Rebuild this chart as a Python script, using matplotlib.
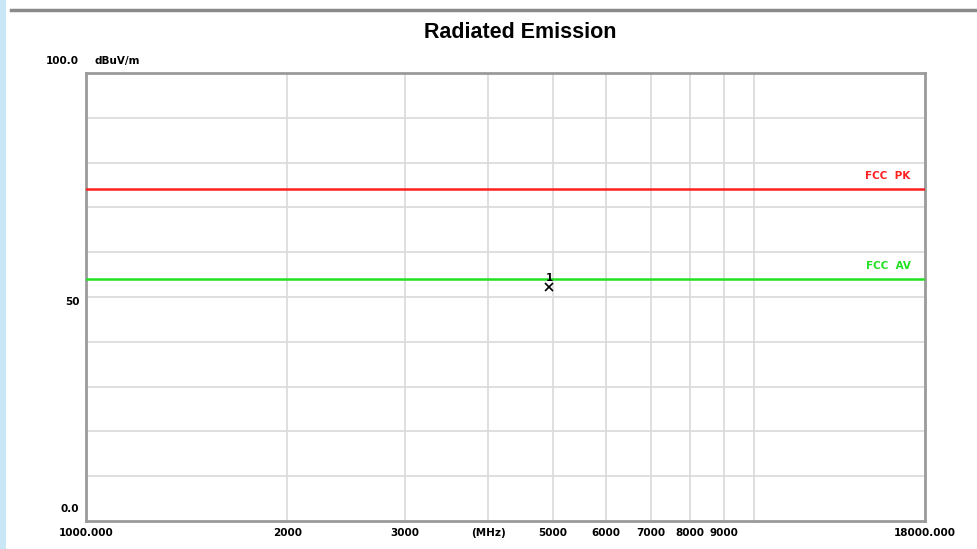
import matplotlib
matplotlib.use('Agg')
import matplotlib.pyplot as plt
import numpy as np
from matplotlib.patches import Rectangle
from matplotlib.lines import Line2D

# limits and data
limit_names = ['FCC  PK', 'FCC  AV']
limit_levels = [74.0, 54.0]
limit_colors = ['#ff2020', '#22e022']
marker_freq = [4930.0]
marker_level = [52.2]
marker_ids = ['1']
xgrid = [2000, 3000, 4000, 5000, 6000, 7000, 8000, 9000, 10000]
xlabels = {1000: '1000.000', 2000: '2000', 3000: '3000', 4000: '(MHz)', 5000: '5000',
           6000: '6000', 7000: '7000', 8000: '8000', 9000: '9000', 18000: '18000.000'}

fig = plt.figure(figsize=(9.77, 5.49), dpi=100)
fig.patch.set_facecolor('white')
# light blue strip on the left edge and the top rule
fig.patches.append(Rectangle((0, 0), 6/977, 1, transform=fig.transFigure,
                             facecolor='#c8e6f5', edgecolor='none'))
fig.lines.append(Line2D([11/977, 1], [1 - 10/549, 1 - 10/549], transform=fig.transFigure,
                        color='#8a8a8a', lw=2.5))

ax = fig.add_axes([86/977, 1 - 521/549, 839/977, 448/549])
ax.set_xscale('log')
ax.set_xlim(1000, 18000)
ax.set_ylim(0, 100)

for x in xgrid:
    ax.axvline(x, color='#d9d9d9', lw=1.2, zorder=1)
for y in range(10, 100, 10):
    ax.axhline(y, color='#d9d9d9', lw=1.2, zorder=1)

for name, lvl, c in zip(limit_names, limit_levels, limit_colors):
    ax.axhline(lvl, color=c, lw=1.8, zorder=3)
    ax.text(0.983, lvl + 1.8, name, transform=ax.get_yaxis_transform(), color=c,
            ha='right', va='bottom', fontsize=7.5, fontweight='bold')

ax.plot(marker_freq, marker_level, 'x', color='black', ms=6, mew=1.2, zorder=4)
for f, l, t in zip(marker_freq, marker_level, marker_ids):
    ax.text(f, l + 1.0, t, ha='center', va='bottom', fontsize=7.5, fontweight='bold')

for s in ax.spines.values():
    s.set_color('#9a9a9a')
    s.set_linewidth(2)

ax.set_xticks([])
ax.set_yticks([])
ax.minorticks_off()

# axis labels as in the analyser printout
for x, lab in xlabels.items():
    ax.text(x, -1.5, lab, ha='center', va='top', fontsize=7.5, fontweight='bold')
ax.text(-0.008, 100 + 1.5, '100.0', transform=ax.get_yaxis_transform(), ha='right',
        va='bottom', fontsize=7.5, fontweight='bold')
ax.text(0.01, 100 + 1.5, 'dBuV/m', transform=ax.get_yaxis_transform(), ha='left',
        va='bottom', fontsize=7.5, fontweight='bold')
ax.text(-0.008, 50, '50', transform=ax.get_yaxis_transform(), ha='right',
        va='top', fontsize=7.5, fontweight='bold')
ax.text(-0.008, 1.5, '0.0', transform=ax.get_yaxis_transform(), ha='right',
        va='bottom', fontsize=7.5, fontweight='bold')

fig.text(520/977, 1 - 32/549, 'Radiated Emission', ha='center', va='center',
         fontsize=15.5, fontweight='bold', family='Liberation Sans')

fig.savefig('out.png', dpi=100)
